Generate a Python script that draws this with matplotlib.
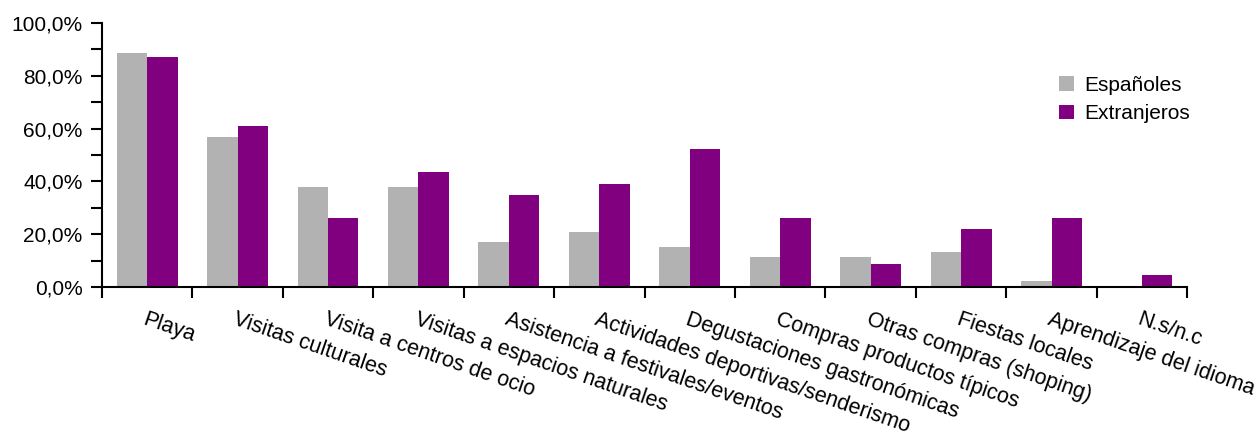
import numpy as np
import matplotlib.pyplot as plt
from matplotlib.ticker import FuncFormatter, MultipleLocator

plt.rcParams['font.family'] = ['Liberation Sans', 'DejaVu Sans']

# Actividades realizadas durante la estancia (%)
categorias = [
    "Playa", "Visitas culturales", "Visita a centros de ocio",
    "Visitas a espacios naturales", "Asistencia a festivales/eventos",
    "Actividades deportivas/senderismo", "Degustaciones gastronómicas",
    "Compras productos típicos", "Otras compras (shoping)",
    "Fiestas locales", "Aprendizaje del idioma", "N.s/n.c",
]
espanoles = [88.6, 56.8, 37.9, 37.9, 17.0, 20.8, 15.2, 11.5, 11.5, 13.3, 2.3, 0.0]
extranjeros = [87.1, 61.0, 26.1, 43.6, 34.8, 39.0, 52.3, 26.1, 8.7, 22.0, 26.1, 4.5]

fig = plt.figure(figsize=(12.58, 4.41), dpi=100)
ax = fig.add_axes([0.081, 0.349, 0.8627, 0.599])

x = np.arange(len(categorias))
w = 0.337
ax.bar(x - w / 2, espanoles, w, color="#B2B2B2", label="Españoles")
ax.bar(x + w / 2, extranjeros, w, color="#800080", label="Extranjeros")

ax.set_xlim(-0.5, len(categorias) - 0.5)
ax.set_ylim(0, 100)

for s in ["top", "right"]:
    ax.spines[s].set_visible(False)
for s in ["left", "bottom"]:
    ax.spines[s].set_linewidth(1.5)

# eje Y: etiquetas cada 20 %, marcas cada 10 %
ax.yaxis.set_major_locator(MultipleLocator(20))
ax.yaxis.set_minor_locator(MultipleLocator(10))
ax.yaxis.set_major_formatter(FuncFormatter(lambda v, p: f"{v:.1f}%".replace(".", ",")))
ax.tick_params(axis="y", which="both", direction="out", length=8, width=1.5,
               labelsize=15, pad=6)

# eje X: marcas entre categorías, etiquetas inclinadas en el centro
ax.set_xticks(np.arange(-0.5, len(categorias), 1.0))
ax.set_xticklabels([])
ax.set_xticks(x, minor=True)
ax.set_xticklabels(categorias, minor=True, rotation=-19, ha="left", va="top",
                   rotation_mode="anchor")
ax.tick_params(axis="x", which="major", direction="out", length=8, width=1.5)
ax.tick_params(axis="x", which="minor", length=0, pad=16, labelsize=15.5)

ax.legend(loc="upper left", bbox_to_anchor=(0.865, 0.87), frameon=False,
          fontsize=15, handlelength=0.7, handleheight=0.7, handletextpad=0.5,
          labelspacing=0.45)

fig.savefig("out.png", dpi=100)
